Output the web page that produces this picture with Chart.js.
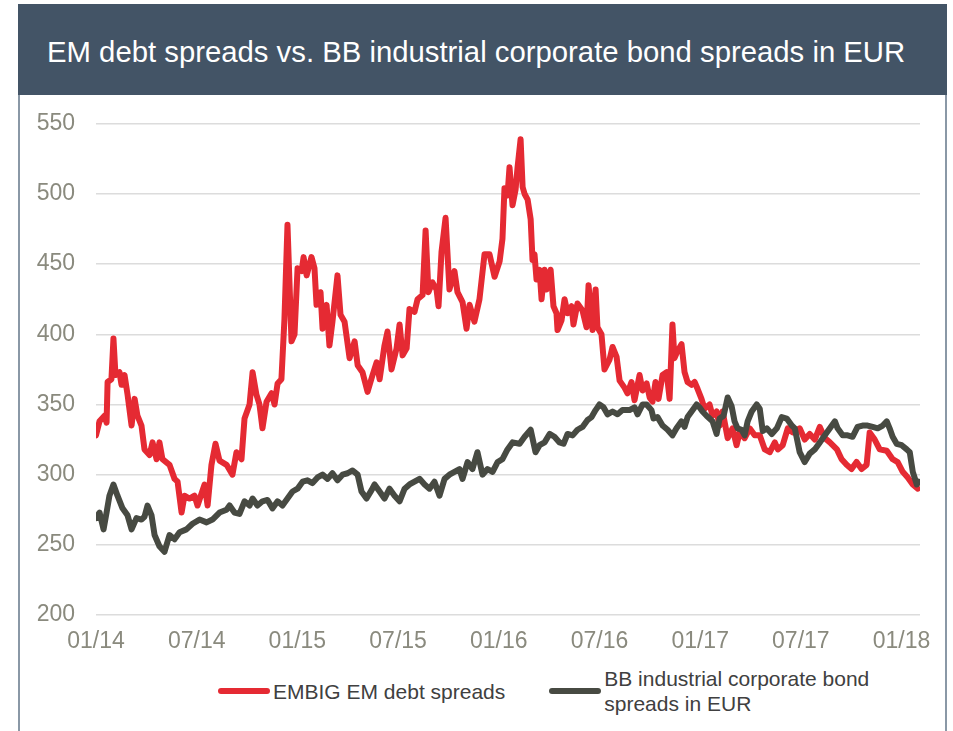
<!DOCTYPE html>
<html>
<head>
<meta charset="utf-8">
<title>EM debt spreads vs. BB industrial corporate bond spreads in EUR</title>
<script src="https://cdn.jsdelivr.net/npm/chart.js@4.4.1/dist/chart.umd.min.js"></script>
<style>
    body { margin: 0; background: #fff; font-family: "Liberation Sans", Arial, sans-serif; }
    #header { position: absolute; z-index: 2; left: 18px; top: 4px; width: 929px; height: 91px; background: #435466; }
    #header h1 { position: absolute; left: 29px; top: 33px; margin: 0; font-size: 29.3px; line-height: 29px; font-weight: normal; color: #fff; white-space: nowrap; }
    #box { position: absolute; left: 18px; top: 95px; width: 925px; height: 700px; border-left: 2px solid #8a98a6; border-right: 2px solid #8a98a6; }
    #chart { position: absolute; left: 20px; top: 89px; }
    #legend { position: absolute; left: 218px; top: 666px; display: flex; align-items: center; font-size: 21px; line-height: 25px; color: #404040; }
    #legend .item { display: flex; align-items: center; }
    #legend .item + .item { margin-left: 44px; }
    #legend .swatch { flex: none; width: 52px; height: 6px; border-radius: 3px; margin-right: 3px; }
    #legend .label { max-width: 275px; }
</style>
</head>
<body>
<div id="header"><h1>EM debt spreads vs. BB industrial corporate bond spreads in EUR</h1></div>
<div id="box"></div>
<canvas id="chart" width="920" height="573"></canvas>
<div id="legend"></div>

<script>
// x positions are months since 01/2014
var tickLabels = ['01/14', '07/14', '01/15', '07/15', '01/16', '07/16', '01/17', '07/17', '01/18'];

var emMonths = [0, 0.21, 0.51, 0.63, 0.69, 0.92, 1.04, 1.16, 1.40, 1.52, 1.70, 1.88, 2.12, 2.30, 2.47, 2.71, 2.89, 3.19, 3.37, 3.61,
    3.78, 3.96, 4.38, 4.68, 4.86, 5.10, 5.27, 5.57, 5.87, 6.05, 6.47, 6.65, 6.88, 7.12, 7.36, 7.78, 8.13, 8.37, 8.67, 8.85,
    9.15, 9.33, 9.56, 9.74, 9.92, 10.16, 10.46, 10.64, 10.82, 11.05, 11.23, 11.41, 11.65, 11.83, 12.01, 12.25, 12.37, 12.55, 12.84, 13.02,
    13.14, 13.38, 13.50, 13.74, 13.91, 14.09, 14.39, 14.57, 14.81, 15.11, 15.41, 15.59, 15.88, 16.18, 16.48, 16.72, 16.90, 17.19, 17.37, 17.61,
    17.91, 18.09, 18.27, 18.51, 18.68, 18.98, 19.16, 19.46, 19.64, 19.81, 20.05, 20.29, 20.41, 20.59, 20.83, 21.06, 21.36, 21.54, 21.84, 22.08,
    22.26, 22.55, 22.85, 23.15, 23.45, 23.75, 24.05, 24.22, 24.34, 24.52, 24.64, 24.82, 25.00, 25.12, 25.30, 25.42, 25.54, 25.72, 25.90, 26.01,
    26.13, 26.25, 26.43, 26.55, 26.73, 26.85, 27.09, 27.26, 27.44, 27.50, 27.74, 27.92, 28.10, 28.34, 28.45, 28.69, 28.99, 29.23, 29.35, 29.59,
    29.77, 29.88, 30.12, 30.30, 30.60, 30.78, 31.02, 31.20, 31.49, 31.67, 31.91, 32.09, 32.39, 32.57, 32.81, 32.99, 33.16, 33.34, 33.52, 33.76,
    34.00, 34.18, 34.35, 34.47, 34.65, 34.89, 35.07, 35.25, 35.49, 35.67, 35.85, 36.08, 36.26, 36.56, 36.74, 36.98, 37.16, 37.34, 37.64, 37.93,
    38.17, 38.35, 38.65, 38.95, 39.25, 39.55, 39.85, 40.15, 40.45, 40.63, 40.92, 41.22, 41.52, 41.93, 42.23, 42.53, 42.83, 43.13, 43.43, 43.73,
    44.15, 44.43, 44.73, 45.02, 45.32, 45.62, 45.92, 46.10, 46.40, 46.70, 47.12, 47.47, 47.77, 48.07, 48.37, 48.67, 48.97];

var emValues = [328, 338, 342, 337, 366, 368, 397, 371, 373, 364, 371, 357, 335, 354, 342, 335, 318, 314, 323, 311,
    323, 311, 307, 297, 295, 273, 285, 283, 285, 278, 293, 278, 307, 322, 310, 307, 300, 316, 311, 340,
    350, 373, 357, 350, 333, 352, 358, 350, 365, 368, 411, 478, 395, 400, 447, 445, 455, 442, 455, 447,
    421, 430, 404, 421, 392, 409, 442, 414, 409, 383, 395, 378, 373, 359, 371, 380, 368, 392, 402, 375,
    390, 407, 385, 390, 418, 416, 425, 428, 474, 430, 437, 432, 420, 459, 483, 432, 445, 430, 423, 404,
    421, 409, 425, 457, 457, 441, 452, 468, 504, 499, 519, 492, 503, 519, 539, 505, 500, 496, 482, 453,
    457, 439, 446, 425, 446, 432, 446, 420, 415, 403, 410, 425, 415, 420, 407, 422, 417, 405, 435, 403,
    432, 405, 400, 375, 382, 391, 384, 367, 362, 358, 366, 353, 371, 360, 365, 355, 352, 366, 354, 371,
    373, 354, 407, 383, 388, 393, 373, 366, 364, 366, 361, 354, 347, 350, 342, 345, 335, 345, 326, 333,
    321, 330, 326, 333, 328, 328, 318, 316, 323, 318, 321, 333, 330, 333, 325, 329, 325, 334, 326, 323,
    318, 311, 307, 304, 309, 304, 307, 330, 325, 318, 317, 311, 309, 302, 298, 293, 290];

var bbMonths = [0, 0.21, 0.45, 0.63, 0.80, 1.04, 1.28, 1.58, 1.88, 2.12, 2.41, 2.71, 2.89, 3.07, 3.31, 3.49, 3.78, 4.08, 4.38, 4.68,
    4.98, 5.39, 5.75, 6.17, 6.59, 6.94, 7.36, 7.78, 7.96, 8.25, 8.55, 8.85, 9.15, 9.33, 9.62, 9.92, 10.22, 10.52, 10.82, 11.11,
    11.41, 11.71, 12.01, 12.31, 12.60, 12.90, 13.20, 13.50, 13.80, 14.09, 14.39, 14.69, 14.99, 15.29, 15.59, 15.82, 16.12, 16.42, 16.60, 16.90,
    17.19, 17.49, 17.79, 18.09, 18.39, 18.68, 18.98, 19.28, 19.58, 19.87, 20.17, 20.47, 20.77, 21.06, 21.36, 21.66, 21.84, 22.14, 22.43, 22.73,
    23.03, 23.33, 23.63, 23.93, 24.22, 24.52, 24.82, 25.24, 25.54, 25.90, 26.19, 26.43, 26.73, 27.03, 27.32, 27.62, 27.86, 28.10, 28.40, 28.69,
    28.99, 29.29, 29.53, 29.77, 30.00, 30.24, 30.48, 30.78, 31.08, 31.37, 31.79, 32.09, 32.27, 32.57, 32.81, 33.10, 33.22, 33.46, 33.76, 34.06,
    34.35, 34.59, 34.89, 35.07, 35.25, 35.49, 35.79, 35.96, 36.14, 36.38, 36.56, 36.74, 36.98, 37.16, 37.40, 37.64, 37.87, 38.05, 38.23, 38.47,
    38.65, 38.83, 39.07, 39.37, 39.55, 39.73, 39.97, 40.27, 40.57, 40.86, 41.16, 41.46, 41.64, 41.93, 42.23, 42.53, 42.83, 43.13, 43.43, 43.73,
    44.03, 44.19, 44.49, 44.79, 45.08, 45.38, 45.68, 45.98, 46.28, 46.58, 46.88, 47.12, 47.29, 47.47, 47.71, 48.01, 48.31, 48.49, 48.67, 48.91,
    49.03];

var bbValues = [269, 273, 261, 273, 285, 293, 285, 276, 271, 261, 269, 268, 270, 278, 271, 257, 249, 245, 257, 254,
    259, 261, 265, 268, 266, 268, 273, 275, 278, 273, 272, 281, 278, 283, 278, 281, 282, 276, 281, 278,
    283, 288, 290, 295, 296, 294, 298, 300, 297, 301, 296, 300, 301, 303, 300, 288, 283, 289, 293, 288,
    283, 290, 285, 281, 290, 293, 295, 297, 293, 290, 295, 285, 297, 300, 302, 304, 297, 309, 304, 316,
    300, 304, 302, 309, 311, 318, 323, 322, 327, 332, 316, 321, 323, 329, 327, 323, 322, 329, 328, 332,
    334, 339, 341, 346, 350, 348, 343, 345, 343, 346, 346, 348, 343, 350, 350, 346, 340, 341, 335, 332,
    328, 333, 338, 334, 341, 345, 350, 348, 345, 342, 340, 338, 329, 340, 342, 355, 349, 338, 333, 332,
    328, 338, 345, 350, 347, 331, 333, 329, 333, 341, 340, 335, 333, 316, 309, 315, 318, 323, 328, 333,
    338, 333, 328, 328, 327, 334, 335, 335, 334, 333, 335, 338, 333, 327, 322, 321, 318, 316, 302, 293,
    295];

var xMax = 49.1;


// HTML legend, so the long label can wrap onto two lines
var htmlLegend = {
    id: 'htmlLegend',
    afterUpdate: function (chart) {
        var box = document.getElementById('legend');
        box.innerHTML = '';
        chart.data.datasets.forEach(function (ds) {
            var item = document.createElement('div');
            item.className = 'item';
            var sw = document.createElement('span');
            sw.className = 'swatch';
            sw.style.background = ds.borderColor;
            var tx = document.createElement('span');
            tx.className = 'label';
            tx.textContent = ds.label;
            item.appendChild(sw);
            item.appendChild(tx);
            box.appendChild(item);
        });
    }
};

function toPoints(xs, ys) {
    return xs.map(function (x, i) { return {x: x, y: ys[i]}; });
}

var tickFont = {family: '"Liberation Sans", Arial, sans-serif', size: 23};

new Chart(document.getElementById('chart'), {
    type: 'line',
    data: {
        datasets: [{
            label: 'EMBIG EM debt spreads',
            data: toPoints(emMonths, emValues),
            borderColor: '#e52a33',
            borderWidth: 6,
            pointRadius: 0,
            borderJoinStyle: 'round',
            borderCapStyle: 'round',
            order: 1
        }, {
            label: 'BB industrial corporate bond spreads in EUR',
            data: toPoints(bbMonths, bbValues),
            borderColor: '#474a42',
            borderWidth: 6,
            pointRadius: 0,
            borderJoinStyle: 'round',
            borderCapStyle: 'round',
            order: 0
        }]
    },
    options: {
        responsive: false,
        animation: false,
        layout: {padding: {top: 11, right: 20, left: 0, bottom: 0}},
        plugins: {
            legend: {display: false},
            tooltip: {enabled: false}
        },
        scales: {
            x: {
                type: 'linear',
                min: 0,
                max: xMax,
                grid: {display: false},
                border: {display: false},
                ticks: {
                    stepSize: 6,
                    includeBounds: false,
                    autoSkip: false,
                    maxRotation: 0,
                    padding: 5,
                    color: '#8a8a7e',
                    font: tickFont,
                    callback: function (v) {
                        return v % 6 === 0 ? tickLabels[v / 6] : '';
                    }
                },
                afterFit: function (scale) { scale.height = 47; }
            },
            y: {
                min: 200,
                max: 550,
                grid: {color: '#dcdcdc', lineWidth: 1.5, drawTicks: false},
                border: {display: false},
                ticks: {
                    stepSize: 50,
                    padding: 21,
                    color: '#8a8a7e',
                    font: tickFont
                },
                afterFit: function (scale) { scale.width = 76; }
            }
        }
    },
    plugins: [htmlLegend]
});
</script>
</body>
</html>
